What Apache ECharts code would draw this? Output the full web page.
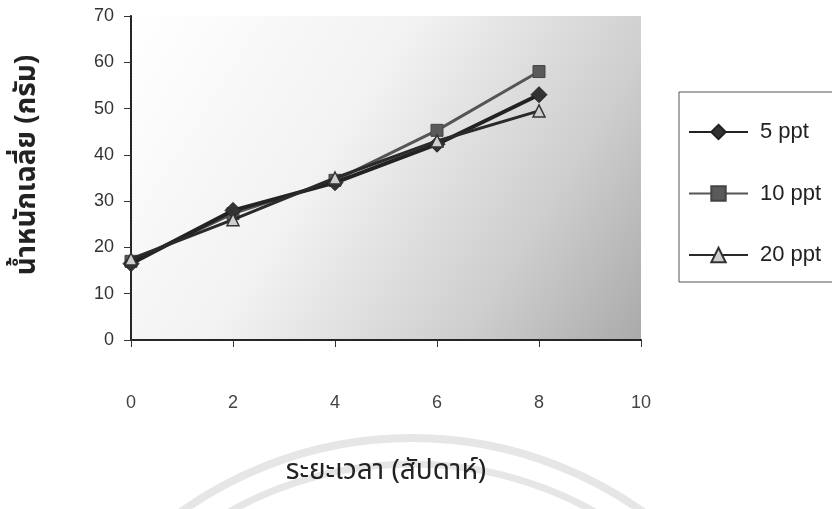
<!DOCTYPE html>
<html>
<head>
<meta charset="utf-8">
<script src="https://cdn.jsdelivr.net/npm/echarts@6/dist/echarts.min.js"></script>
<style>
  html, body { margin: 0; padding: 0; background: #fff; }
  #chart { width: 832px; height: 509px; }
</style>
</head>
<body>
<div id="chart"></div>
<script>
// สัปดาห์
const weeks = [0, 2, 4, 6, 8];
// น้ำหนักเฉลี่ย (กรัม)
const ppt5 = [16.5, 28, 34, 42.3, 53];
const ppt10 = [17, 27.3, 34.5, 45.3, 58];
const ppt20 = [17.5, 26, 35, 43, 49.5];
const seriesNames = ['5 ppt', '10 ppt', '20 ppt'];

const thaiFont = '"Noto Sans Thai", "Noto Sans", Tahoma, "DejaVu Sans", sans-serif';
const latinFont = 'Liberation Sans, Arial, sans-serif';

function pairs(vals) {
  return weeks.map(function (w, i) { return [w, vals[i]]; });
}

let chart = echarts.init(document.getElementById('chart'), null, { renderer: 'canvas' });

let option = {
  animation: false,
  backgroundColor: '#ffffff',
  // watermark arcs
  graphic: [
    {
      type: 'arc', silent: true, z: -10,
      shape: { cx: 412, cy: 836, r: 398, startAngle: Math.PI, endAngle: 2 * Math.PI },
      style: { fill: null, stroke: '#e6e6e6', lineWidth: 8 }
    },
    {
      type: 'arc', silent: true, z: -10,
      shape: { cx: 412, cy: 836, r: 372, startAngle: Math.PI, endAngle: 2 * Math.PI },
      style: { fill: null, stroke: '#e6e6e6', lineWidth: 7 }
    }
  ],
  legend: {
    data: seriesNames,
    orient: 'vertical',
    left: 679,
    top: 92,
    padding: [29, 80, 16, 9],
    itemWidth: 59,
    itemHeight: 18,
    itemGap: 39.5,
    borderColor: '#555',
    borderWidth: 1,
    backgroundColor: '#ffffff',
    textStyle: { fontSize: 22, color: '#222', fontFamily: latinFont, padding: [0, 0, 0, 7] }
  },
  grid: {
    left: 131,
    top: 16,
    width: 510,
    height: 324,
    show: true,
    borderWidth: 0,
    backgroundColor: new echarts.graphic.LinearGradient(0, 0, 1, 1, [
      { offset: 0, color: '#ffffff' },
      { offset: 0.4, color: '#f2f2f2' },
      { offset: 0.75, color: '#cecece' },
      { offset: 1, color: '#aaaaaa' }
    ])
  },
  xAxis: [
    {
      type: 'value',
      min: 0,
      max: 10,
      interval: 2,
      name: 'ระยะเวลา (สัปดาห์)',
      nameLocation: 'middle',
      nameGap: 119,
      nameTextStyle: { fontSize: 28, color: '#222', fontFamily: thaiFont },
      splitLine: { show: false },
      axisLine: { onZero: false, lineStyle: { color: '#111', width: 2 } },
      axisTick: { show: true, length: 7, lineStyle: { color: '#333' } },
      axisLabel: { margin: 54, fontSize: 18, color: '#444', fontFamily: latinFont }
    },
    {
      type: 'value',
      position: 'top',
      min: 0,
      max: 10,
      splitLine: { show: false },
      axisLine: { show: true, lineStyle: { color: '#333', width: 1.5, type: 'dotted' } },
      axisTick: { show: false },
      axisLabel: { show: false }
    }
  ],
  yAxis: [
    {
      type: 'value',
      min: 0,
      max: 70,
      interval: 10,
      name: 'น้ำหนักเฉลี่ย (กรัม)',
      nameLocation: 'middle',
      nameRotate: 90,
      nameGap: 88,
      nameTextStyle: { fontSize: 28, fontWeight: 'bold', color: '#222', fontFamily: thaiFont, padding: [0, 0, 0, 26] },
      splitLine: { show: false },
      axisLine: { show: true, onZero: false, lineStyle: { color: '#111', width: 2 } },
      axisTick: { show: true, length: 7, lineStyle: { color: '#333' } },
      axisLabel: { margin: 17, fontSize: 18, color: '#333', fontFamily: latinFont }
    },
    {
      type: 'value',
      position: 'right',
      min: 0,
      max: 70,
      splitLine: { show: false },
      axisLine: { show: true, lineStyle: { color: '#333', width: 1.5, type: 'dotted' } },
      axisTick: { show: false },
      axisLabel: { show: false }
    }
  ],
  series: [
    {
      name: seriesNames[0],
      type: 'line',
      data: pairs(ppt5),
      symbol: 'diamond',
      symbolSize: 16,
      z: 3,
      lineStyle: { color: '#222', width: 4 },
      itemStyle: { color: '#333', borderColor: '#222', borderWidth: 1 }
    },
    {
      name: seriesNames[1],
      type: 'line',
      data: pairs(ppt10),
      symbol: 'rect',
      symbolSize: 12,
      z: 2,
      lineStyle: { color: '#555', width: 3 },
      itemStyle: { color: '#5a5a5a', borderColor: '#444', borderWidth: 1 }
    },
    {
      name: seriesNames[2],
      type: 'line',
      data: pairs(ppt20),
      symbol: 'triangle',
      symbolSize: 12,
      z: 4,
      lineStyle: { color: '#2a2a2a', width: 3 },
      itemStyle: { color: '#cfcfcf', borderColor: '#333', borderWidth: 1.5 }
    }
  ]
};

chart.setOption(option);
</script>
</body>
</html>
